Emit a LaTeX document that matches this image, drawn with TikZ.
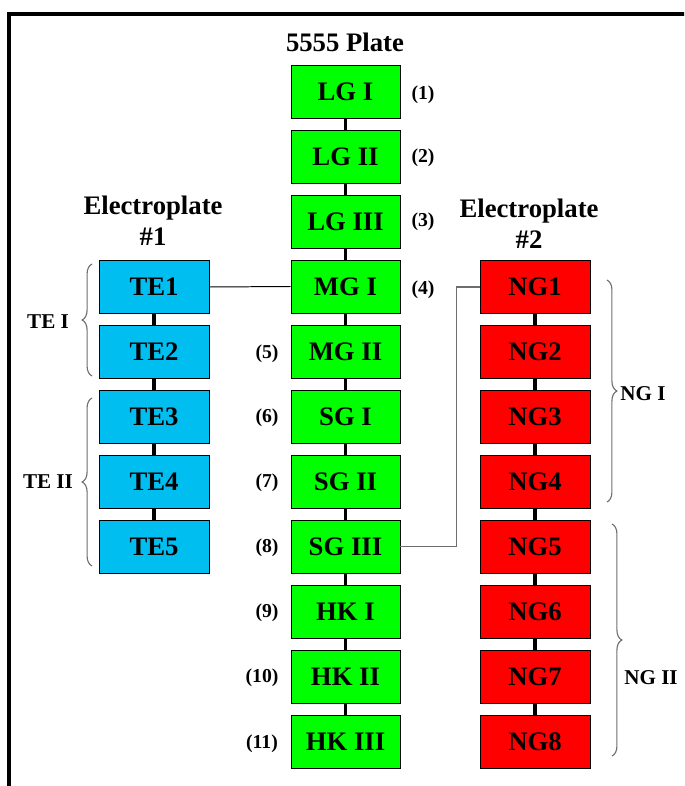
\documentclass[tikz,border=0pt]{standalone}
\usepackage{fontspec}
\setmainfont{Liberation Serif}
\usetikzlibrary{decorations.pathreplacing}

\definecolor{plategreen}{RGB}{0,255,0}
\definecolor{teblue}{RGB}{0,191,240}
\definecolor{ngred}{RGB}{255,0,0}
\definecolor{bracegray}{RGB}{110,110,110}

\tikzset{
  gbox/.style={draw=black, fill=plategreen, minimum width=2.725cm, minimum height=1.325cm, inner sep=0pt, font=\fontsize{19}{22}\selectfont\bfseries},
  tbox/.style={gbox, fill=teblue, minimum width=2.75cm},
  nbox/.style={gbox, fill=ngred, minimum width=2.75cm},
  num/.style={font=\fontsize{14}{16}\selectfont\bfseries},
  grp/.style={font=\fontsize{15}{18}\selectfont\bfseries},
  head/.style={font=\fontsize{19}{22}\selectfont\bfseries, align=center},
  link/.style={line width=2.2pt},
  bracket/.style={draw=bracegray, line width=0.8pt, decorate, decoration={brace, amplitude=7pt}}
}

\begin{document}
\begin{tikzpicture}[x=0.025cm, y=-0.025cm]
			%%%%% START %%%%%
			\clip (0, 0) rectangle (684, 786);
			\draw[line width=2.2pt] (9, 800) -- (9, 14) -- (700, 14);
			
			\node[head] (plate) at (345, 42) {5555 Plate};
			\node[head] (ep1) at (153, 221) {Electroplate\\\#1};
			\node[head] (ep2) at (529, 224) {Electroplate\\\#2};
			
			% 5555 plate column
			\node[gbox] (lg1) at (345.5, 91.5) {LG I};
			\node[gbox] (lg2) at (345.5, 156.5) {LG II};
			\node[gbox] (lg3) at (345.5, 221.5) {LG III};
			\node[gbox] (mg1) at (345.5, 286.5) {MG I};
			\node[gbox] (mg2) at (345.5, 351.5) {MG II};
			\node[gbox] (sg1) at (345.5, 416.5) {SG I};
			\node[gbox] (sg2) at (345.5, 481.5) {SG II};
			\node[gbox] (sg3) at (345.5, 546.5) {SG III};
			\node[gbox] (hk1) at (345.5, 611.5) {HK I};
			\node[gbox] (hk2) at (345.5, 676.5) {HK II};
			\node[gbox] (hk3) at (345.5, 741.5) {HK III};
			
			\node[num] (n1) at (423, 95) {(1)};
			\node[num] (n2) at (423, 158) {(2)};
			\node[num] (n3) at (423, 222) {(3)};
			\node[num] (n4) at (423, 290) {(4)};
			\node[num] (n5) at (267, 354) {(5)};
			\node[num] (n6) at (267, 418) {(6)};
			\node[num] (n7) at (267, 483) {(7)};
			\node[num] (n8) at (267, 548) {(8)};
			\node[num] (n9) at (267, 613) {(9)};
			\node[num] (n10) at (262, 678) {(10)};
			\node[num] (n11) at (262, 744) {(11)};
			
			% electroplate 1
			\node[tbox] (te1) at (154, 287) {TE1};
			\node[tbox] (te2) at (154, 352) {TE2};
			\node[tbox] (te3) at (154, 417) {TE3};
			\node[tbox] (te4) at (154, 482) {TE4};
			\node[tbox] (te5) at (154, 547) {TE5};
			
			% electroplate 2
			\node[nbox] (ng1) at (535, 287) {NG1};
			\node[nbox] (ng2) at (535, 352) {NG2};
			\node[nbox] (ng3) at (535, 417) {NG3};
			\node[nbox] (ng4) at (535, 482) {NG4};
			\node[nbox] (ng5) at (535, 547) {NG5};
			\node[nbox] (ng6) at (535, 612) {NG6};
			\node[nbox] (ng7) at (535, 677) {NG7};
			\node[nbox] (ng8) at (535, 742) {NG8};
			
			\draw[link] (lg1) -- (lg2) -- (lg3) -- (mg1) -- (mg2) -- (sg1) -- (sg2) -- (sg3) -- (hk1) -- (hk2) -- (hk3);
			\draw[link] (te1) -- (te2) -- (te3) -- (te4) -- (te5);
			\draw[link] (ng1) -- (ng2) -- (ng3) -- (ng4) -- (ng5) -- (ng6) -- (ng7) -- (ng8);
			
			\draw[line width=0.7pt] (te1.east) -- (mg1.west);
			\draw[bracegray, line width=1pt] (sg3.east) -- ++(56, 0) |- (ng1.west);
			
			% groups
			\draw[bracket] (92, 376) -- (92, 264);
			\draw[bracket] (92, 566) -- (92, 398);
			\draw[bracket] (607, 280) -- (607, 502);
			\draw[bracket] (612, 524) -- (612, 756);
			\node[grp] (tei) at (48, 322) {TE I};
			\node[grp] (teii) at (48, 482) {TE II};
			\node[grp] (ngi) at (643, 394) {NG I};
			\node[grp] (ngii) at (651, 678) {NG II};
			%%%%% END %%%%%
		\end{tikzpicture}
\end{document}
